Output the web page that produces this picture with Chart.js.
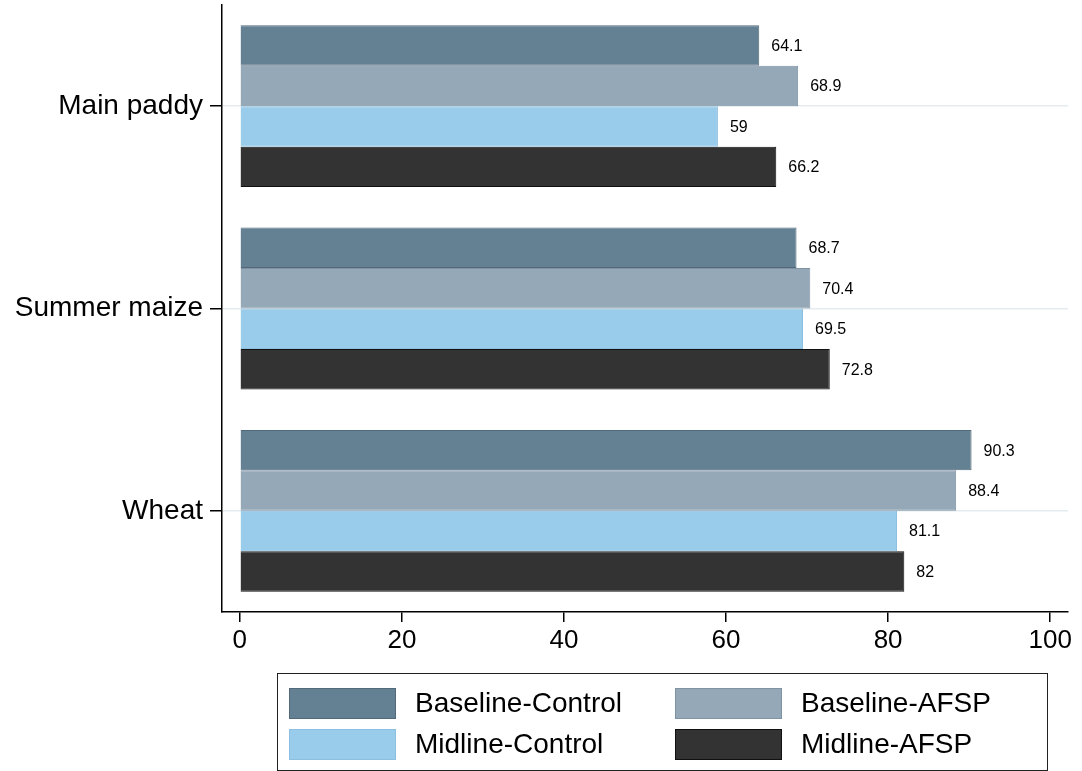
<!DOCTYPE html>
<html>
<head>
<meta charset="utf-8">
<script src="https://cdn.jsdelivr.net/npm/chart.js@4"></script>
<style>
  body { margin: 0; background: #fff; }
</style>
</head>
<body>
<canvas id="myChart" width="1082" height="771"></canvas>
<script>
// crops and series
let crops = ["Main paddy", "Summer maize", "Wheat"];
let baselineControl = [64.1, 68.7, 90.3];
let baselineAfsp = [68.9, 70.4, 88.4];
let midlineControl = [59, 69.5, 81.1];
let midlineAfsp = [66.2, 72.8, 82];
let xTicks = [0, 20, 40, 60, 80, 100];
let seriesNames = ["Baseline-Control", "Baseline-AFSP", "Midline-Control", "Midline-AFSP"];

const FONT = "'Liberation Sans', Arial, sans-serif";

// numbers at the end of each bar
const valueLabels = {
    id: 'valueLabels',
    afterDatasetsDraw(chart) {
        const ctx = chart.ctx;
        ctx.save();
        ctx.font = "16px " + FONT;
        ctx.fillStyle = "#000";
        ctx.textBaseline = "middle";
        ctx.textAlign = "left";
        chart.data.datasets.forEach((ds, i) => {
            chart.getDatasetMeta(i).data.forEach((bar, j) => {
                ctx.fillText(String(ds.data[j]), bar.x + 12, bar.y + 1);
            });
        });
        ctx.restore();
    }
};

// two-column boxed legend under the plot
const boxLegend = {
    id: 'boxLegend',
    afterDraw(chart) {
        const ctx = chart.ctx;
        ctx.save();
        ctx.strokeStyle = "#222";
        ctx.lineWidth = 1;
        ctx.strokeRect(277.5, 673.5, 770, 97);
        ctx.font = "28px " + FONT;
        ctx.textBaseline = "middle";
        ctx.fillStyle = "#000";
        chart.data.datasets.forEach((ds, i) => {
            let col = i % 2, row = Math.floor(i / 2);
            let x = col == 0 ? 289 : 675;
            let y = row == 0 ? 688 : 729;
            ctx.fillStyle = ds.backgroundColor;
            ctx.fillRect(x, y, 107, 31);
            ctx.strokeStyle = ds.borderColor;
            ctx.strokeRect(x + 0.5, y + 0.5, 106, 30);
            ctx.fillStyle = "#000";
            ctx.fillText(ds.label, x + 126, y + 16);
        });
        ctx.restore();
    }
};

var ctx = document.getElementById('myChart').getContext('2d');
var chart = new Chart(ctx, {
    type: 'bar',
    data: {
        labels: crops,
        datasets: [
            { label: seriesNames[0], data: baselineControl, backgroundColor: '#648194', borderColor: '#52697a', borderWidth: 1 },
            { label: seriesNames[1], data: baselineAfsp, backgroundColor: '#95a8b8', borderColor: '#7f93a4', borderWidth: 1 },
            { label: seriesNames[2], data: midlineControl, backgroundColor: '#99cbea', borderColor: '#8dc0e0', borderWidth: 1 },
            { label: seriesNames[3], data: midlineAfsp, backgroundColor: '#333333', borderColor: '#111111', borderWidth: 1 }
        ]
    },
    options: {
        indexAxis: 'y',
        responsive: false,
        animation: false,
        categoryPercentage: 0.8,
        barPercentage: 1.0,
        layout: { padding: { top: 5, right: 14, bottom: 99, left: 0 } },
        plugins: {
            legend: { display: false },
            tooltip: { enabled: false }
        },
        scales: {
            x: {
                type: 'linear',
                min: -2.2,
                max: 102.2,
                afterBuildTicks: (scale) => { scale.ticks = xTicks.map(v => ({ value: v })); },
                afterFit: (scale) => { scale.height = 60; },
                grid: { drawOnChartArea: false, drawTicks: true, tickColor: '#000', tickLength: 10, lineWidth: 1.5 },
                border: { color: '#000', width: 1.5 },
                ticks: { color: '#000', font: { family: FONT, size: 26 }, padding: 3, maxRotation: 0 }
            },
            y: {
                afterFit: (scale) => { scale.width = 222; scale.paddingTop = 0; scale.paddingBottom = 0; },
                grid: { offset: false, color: '#e4ecef', lineWidth: 1.5, tickColor: '#000', tickLength: 12 },
                border: { color: '#000', width: 1.5 },
                ticks: { color: '#000', font: { family: FONT, size: 28 }, padding: 7 }
            }
        }
    },
    plugins: [valueLabels, boxLegend]
});
</script>
</body>
</html>
